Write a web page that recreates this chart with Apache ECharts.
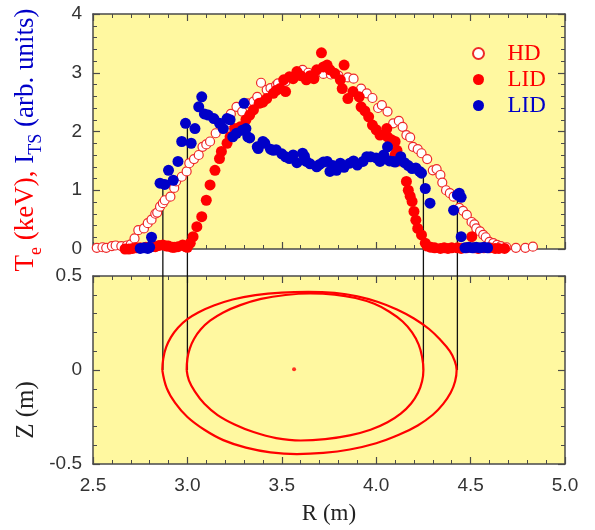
<!DOCTYPE html>
<html><head><meta charset="utf-8">
<script src="https://cdn.jsdelivr.net/npm/echarts@6/dist/echarts.min.js"></script>
<style>html,body{margin:0;padding:0;background:#fff}#c{width:595px;height:530px}</style>
</head><body><div id="c"></div>
<script>
// HD (open circles): [R (m), Te (keV)]
const hdData = [[2.52,0.02],[2.55,0.03],[2.57,0.02],[2.60,0.05],[2.62,0.06],[2.65,0.05],[2.68,0.06],[2.70,0.08],[2.72,0.18],[2.74,0.32],[2.77,0.35],[2.79,0.44],[2.81,0.5],[2.83,0.6],[2.84,0.62],[2.855,0.72],[2.87,0.78],[2.88,0.83],[2.91,0.89],[2.93,1.04],[2.94,1.15],[2.97,1.23],[2.996,1.32],[3.01,1.46],[3.035,1.53],[3.06,1.6],[3.08,1.74],[3.10,1.78],[3.12,1.83],[3.15,1.97],[3.19,2.05],[3.21,2.15],[3.23,2.3],[3.26,2.42],[3.29,2.34],[3.32,2.48],[3.35,2.51],[3.37,2.59],[3.39,2.83],[3.42,2.71],[3.44,2.74],[3.47,2.79],[3.48,2.82],[3.52,2.85],[3.55,2.92],[3.58,2.98],[3.61,3.05],[3.64,3.0],[3.68,3.02],[3.72,2.98],[3.76,2.97],[3.80,2.95],[3.85,2.92],[3.88,2.9],[3.92,2.73],[3.95,2.65],[3.98,2.57],[4.01,2.4],[4.03,2.45],[4.06,2.34],[4.09,2.14],[4.12,2.18],[4.14,2.08],[4.16,1.94],[4.18,1.9],[4.195,1.74],[4.22,1.7],[4.24,1.63],[4.27,1.53],[4.30,1.34],[4.32,1.36],[4.34,1.26],[4.35,1.13],[4.37,1.0],[4.39,0.95],[4.41,0.89],[4.44,0.7],[4.46,0.65],[4.48,0.58],[4.505,0.46],[4.52,0.42],[4.53,0.35],[4.55,0.3],[4.567,0.24],[4.58,0.2],[4.60,0.12],[4.62,0.1],[4.64,0.07],[4.66,0.05],[4.69,0.03],[4.74,0.02],[4.79,0.02],[4.83,0.04]];
// LID Te (red filled): [R (m), Te (keV)]
const lidTeData = [[2.67,0.0],[2.69,0.0],[2.71,0.01],[2.73,0.02],[2.75,0.02],[2.78,0.03],[2.81,0.04],[2.83,0.04],[2.85,0.06],[2.87,0.07],[2.89,0.05],[2.90,0.05],[2.92,0.03],[2.93,0.03],[2.95,0.04],[2.975,0.07],[2.99,0.04],[3.0,0.03],[3.015,0.1],[3.03,0.21],[3.05,0.38],[3.076,0.55],[3.10,0.83],[3.12,1.09],[3.146,1.34],[3.17,1.54],[3.18,1.66],[3.21,1.8],[3.226,1.91],[3.25,2.05],[3.28,2.08],[3.31,2.2],[3.33,2.28],[3.35,2.37],[3.38,2.48],[3.40,2.5],[3.42,2.56],[3.455,2.65],[3.47,2.7],[3.49,2.73],[3.51,2.88],[3.52,2.68],[3.54,2.93],[3.56,2.9],[3.58,3.02],[3.60,2.95],[3.63,2.88],[3.65,2.95],[3.67,2.9],[3.685,3.05],[3.71,3.34],[3.72,3.1],[3.74,3.13],[3.755,3.05],[3.78,2.99],[3.81,2.88],[3.83,3.13],[3.82,2.73],[3.85,2.56],[3.877,2.68],[3.91,2.59],[3.92,2.42],[3.94,2.35],[3.96,2.25],[3.98,2.11],[4.0,2.03],[4.02,1.94],[4.056,2.05],[4.06,1.91],[4.08,1.86],[4.10,1.83],[4.10,1.6],[4.11,1.68],[4.12,1.5],[4.16,1.15],[4.17,1.0],[4.18,0.9],[4.19,0.81],[4.20,0.64],[4.21,0.49],[4.22,0.35],[4.24,0.24],[4.26,0.1],[4.27,0.05],[4.29,0.03],[4.31,0.02],[4.34,0.01],[4.36,0.02],[4.38,0.01],[4.40,0.02],[4.43,0.02],[4.45,0.01],[4.48,0.02],[4.506,0.21],[4.52,0.02],[4.54,0.01],[4.57,0.02],[4.60,0.02],[4.63,0.01],[4.65,0.01],[4.68,0.01]];
// LID Thomson scattering intensity (blue filled): [R (m), I_TS (arb. units)]
const lidItsData = [[2.75,0.01],[2.77,0.02],[2.79,0.01],[2.80,0.03],[2.81,0.2],[2.855,1.12],[2.88,1.1],[2.90,1.34],[2.925,1.17],[2.95,1.49],[2.97,1.83],[2.99,2.14],[3.02,1.8],[3.04,2.05],[3.06,2.42],[3.076,2.59],[3.09,2.3],[3.11,2.28],[3.14,2.22],[3.17,2.14],[3.19,2.05],[3.21,2.22],[3.226,2.2],[3.24,1.91],[3.26,1.97],[3.29,2.02],[3.30,2.48],[3.31,2.05],[3.32,1.91],[3.33,1.89],[3.37,1.74],[3.375,1.71],[3.40,1.83],[3.41,1.8],[3.44,1.7],[3.455,1.68],[3.47,1.69],[3.50,1.62],[3.52,1.57],[3.54,1.54],[3.56,1.6],[3.58,1.47],[3.61,1.63],[3.62,1.58],[3.63,1.49],[3.65,1.45],[3.685,1.4],[3.70,1.44],[3.72,1.48],[3.74,1.49],[3.755,1.32],[3.77,1.42],[3.79,1.34],[3.81,1.46],[3.83,1.39],[3.86,1.46],[3.88,1.5],[3.90,1.43],[3.93,1.49],[3.95,1.57],[3.97,1.57],[4.0,1.55],[4.02,1.49],[4.04,1.6],[4.06,1.74],[4.07,1.5],[4.09,1.49],[4.10,1.48],[4.13,1.57],[4.15,1.47],[4.17,1.42],[4.19,1.37],[4.21,1.38],[4.23,1.32],[4.24,1.29],[4.26,1.03],[4.285,0.78],[4.41,0.66],[4.43,0.92],[4.44,0.95],[4.45,0.88],[4.45,0.21],[4.47,0.02],[4.49,0.03],[4.51,0.02],[4.53,0.03],[4.55,0.02],[4.57,0.03],[4.59,0.02]];
// Flux surfaces, bottom panel: [R (m), Z (m)]
const outerSurface = [[2.867,0],[2.872,0.06],[2.887,0.12],[2.913,0.175],[2.95,0.225],[3.0,0.27],[3.06,0.307],[3.14,0.343],[3.24,0.375],[3.36,0.398],[3.50,0.412],[3.64,0.416],[3.78,0.41],[3.90,0.392],[4.01,0.362],[4.11,0.322],[4.20,0.274],[4.28,0.218],[4.34,0.16],[4.39,0.10],[4.415,0.05],[4.426,0],[4.418,-0.06],[4.395,-0.12],[4.355,-0.18],[4.30,-0.238],[4.22,-0.295],[4.12,-0.345],[4.00,-0.39],[3.86,-0.423],[3.72,-0.441],[3.58,-0.447],[3.44,-0.438],[3.31,-0.413],[3.19,-0.373],[3.09,-0.318],[3.00,-0.25],[2.935,-0.175],[2.89,-0.095],[2.867,0]];
const innerSurface = [[2.996,0],[3.0,0.06],[3.013,0.115],[3.035,0.165],[3.07,0.215],[3.12,0.262],[3.19,0.306],[3.28,0.345],[3.39,0.378],[3.52,0.399],[3.65,0.407],[3.78,0.401],[3.89,0.383],[3.99,0.352],[4.07,0.31],[4.14,0.258],[4.19,0.20],[4.225,0.135],[4.243,0.07],[4.25,0],[4.243,-0.06],[4.222,-0.12],[4.185,-0.178],[4.13,-0.232],[4.06,-0.278],[3.97,-0.318],[3.86,-0.348],[3.73,-0.368],[3.60,-0.375],[3.47,-0.362],[3.35,-0.33],[3.25,-0.29],[3.16,-0.24],[3.09,-0.18],[3.04,-0.115],[3.008,-0.055],[2.996,0]];
const magneticAxis = [[3.565,0.004]];
// Connector lines: R position and top value in the upper panel
const connR = [2.87, 3.0, 4.25, 4.43];
const connTop = [1.1, 2.15, 1.34, 0.95];

const RED = '#ff0000', BLUE = '#0000c8', BG = '#fff8a0', AX = '#4a4a4a';
const chart = echarts.init(document.getElementById('c'), null, {renderer:'canvas'});
const tickFont = {fontFamily:'"Liberation Sans", Arial, sans-serif', fontSize:19, color:'#333'};
function mkX(grid, pos, labels, extra) {
  return Object.assign({type:'value', gridIndex:grid, position:pos, min:2.5, max:5.0, interval:0.5,
    axisLine:{show:true, onZero:false, lineStyle:{color:AX, width:1.5}},
    axisTick:{show:true, inside:true, length:7, lineStyle:{color:AX, width:1.2}},
    minorTick:{show:true, splitNumber:5, length:4, lineStyle:{color:AX, width:1}},
    splitLine:{show:false},
    axisLabel:Object.assign({show:labels, margin:12, formatter:v=>v.toFixed(1)}, tickFont)}, extra||{});
}
function mkY(grid, pos, labels, min, max, interval, fmt) {
  return {type:'value', gridIndex:grid, position:pos, min:min, max:max, interval:interval,
    axisLine:{show:true, onZero:false, lineStyle:{color:AX, width:1.5}},
    axisTick:{show:true, inside:true, length:7, lineStyle:{color:AX, width:1.2}},
    minorTick:{show:true, splitNumber:5, length:4, lineStyle:{color:AX, width:1}},
    splitLine:{show:false},
    axisLabel:Object.assign({show:labels, margin:11, formatter:fmt}, tickFont)};
}
const serif = '"Liberation Serif", "Times New Roman", serif';
const option = {
  animation:false,
  backgroundColor:'#ffffff',
  grid:[
    {left:93, top:14, width:472, height:235, show:true, backgroundColor:BG, borderWidth:0},
    {left:93, top:276, width:472, height:188, show:true, backgroundColor:BG, borderWidth:0}
  ],
  xAxis:[
    mkX(0,'bottom',false), mkX(0,'top',false),
    mkX(1,'bottom',true,{name:'R (m)', nameLocation:'middle', nameGap:38,
      nameTextStyle:{fontFamily:serif, fontSize:23, color:'#222'}}),
    mkX(1,'top',false)
  ],
  yAxis:[
    mkY(0,'left',true,0,4,1,v=>String(v)), mkY(0,'right',false,0,4,1),
    mkY(1,'left',true,-0.5,0.5,0.5,v=>String(v)), mkY(1,'right',false,-0.5,0.5,0.5)
  ],
  legend:{
    orient:'vertical', left:467, top:37, itemWidth:48, itemHeight:11, itemGap:3,
    symbolKeepAspect:true,
    textStyle:{fontFamily:serif, fontSize:23},
    data:[
      {name:'HD', icon:'circle', textStyle:{color:RED}},
      {name:'LID ', icon:'circle', textStyle:{color:RED}},
      {name:'LID', icon:'circle', textStyle:{color:BLUE}}
    ]
  },
  series:[
    {name:'HD', type:'scatter', xAxisIndex:0, yAxisIndex:0, data:hdData, symbolSize:9,
      itemStyle:{color:'#ffffff', borderColor:'#ee2a2a', borderWidth:1.2, opacity:1}, z:3},
    {name:'LID ', type:'scatter', xAxisIndex:0, yAxisIndex:0, data:lidTeData, symbolSize:11,
      itemStyle:{color:RED, opacity:1}, z:4},
    {name:'LID', type:'scatter', xAxisIndex:0, yAxisIndex:0, data:lidItsData, symbolSize:11,
      itemStyle:{color:BLUE, opacity:1}, z:5},
    {name:'outer', type:'line', xAxisIndex:2, yAxisIndex:2, data:outerSurface, showSymbol:false,
      smooth:0.4, lineStyle:{color:RED, width:2.2}, z:3},
    {name:'inner', type:'line', xAxisIndex:2, yAxisIndex:2, data:innerSurface, showSymbol:false,
      smooth:0.4, lineStyle:{color:RED, width:2.2}, z:3},
    {name:'axis', type:'scatter', xAxisIndex:2, yAxisIndex:2, data:magneticAxis, symbolSize:4,
      itemStyle:{color:RED}, z:3}
  ]
};
chart.setOption(option);

// connector lines and axis titles
const g = [];
for (let i = 0; i < connR.length; i++) {
  const p1 = chart.convertToPixel({xAxisIndex:0, yAxisIndex:0}, [connR[i], connTop[i]]);
  const p2 = chart.convertToPixel({xAxisIndex:2, yAxisIndex:2}, [connR[i], 0]);
  g.push({type:'line', z:2, shape:{x1:p1[0], y1:p1[1], x2:p2[0], y2:p2[1]},
    style:{stroke:'#111', lineWidth:1.3}});
}
g.push({type:'text', x:26, y:140, rotation:Math.PI/2, z:10,
  style:{text:'{r|T}{rs|e}{r| (keV), }{b|I}{bs|TS}{b| (arb. units)}', align:'center', verticalAlign:'middle',
    rich:{
      r:{fontFamily:serif, fontSize:27, fill:RED, verticalAlign:'bottom'},
      rs:{fontFamily:serif, fontSize:18, fill:RED, verticalAlign:'bottom', padding:[0,0,-6,0]},
      b:{fontFamily:serif, fontSize:27, fill:BLUE, verticalAlign:'bottom'},
      bs:{fontFamily:serif, fontSize:18, fill:BLUE, verticalAlign:'bottom', padding:[0,0,-6,0]}
    }}});
g.push({type:'text', x:26, y:410, rotation:Math.PI/2, z:10,
  style:{text:'Z (m)', align:'center', verticalAlign:'middle', fontFamily:serif, fontSize:25, fill:'#222'}});
chart.setOption({graphic:g});
</script></body></html>
